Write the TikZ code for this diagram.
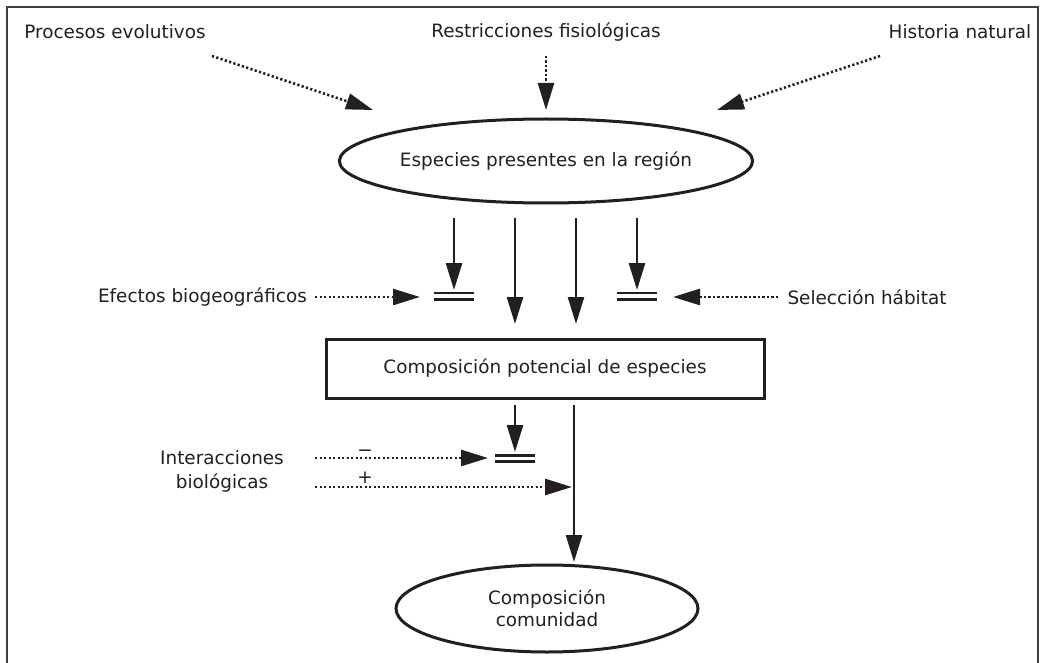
\documentclass[tikz,border=0pt]{standalone}
\usepackage{fontspec}
\setmainfont{DejaVu Sans}
\usetikzlibrary{arrows.meta,shapes.geometric}
\definecolor{ink}{HTML}{231F20}
\begin{document}
\begin{tikzpicture}[x=1pt,y=-1pt,
 lbl/.style={font=\fontsize{18.4}{24}\selectfont, text=ink, inner sep=0pt, align=center},
 solidarrow/.style={draw=ink, line width=2.6pt, -{Triangle[length=27pt,width=16pt]}},
 dotarrow/.style={draw=ink, line width=2.6pt, dash pattern=on 2.2pt off 2.3pt, -{Triangle[length=27pt,width=16pt]}},
 bar/.style={draw=ink, line width=2.6pt},
 shapeline/.style={draw=ink, line width=3pt}
 ]
\useasboundingbox (0,0) rectangle (1044,663);
\draw[line width=2pt, draw=black!75] (7,670) -- (7,7.5) -- (1037.5,7.5) -- (1037.5,670);

% labels
\node[lbl] (proc) at (115,32) {Procesos evolutivos};
\node[lbl] (restr) at (546,32) {Restricciones fisiológicas};
\node[lbl] (hist) at (960,32) {Historia natural};
\node[lbl] (efe) at (202.5,297) {Efectos biogeográficos};
\node[lbl] (sel) at (867,297) {Selección hábitat};
\node[lbl] (inter) at (222,471) {Interacciones\\biológicas};

% shapes
\node[lbl, ellipse, shapeline, minimum width=372pt, minimum height=84pt] (esp) at (546,161) {Especies presentes en la región};
\node[lbl, rectangle, shapeline, minimum width=438pt, minimum height=59pt] (pot) at (545,368.5) {Composición potencial de especies};
\node[lbl, ellipse, shapeline, minimum width=302pt, minimum height=87pt, font=\fontsize{18.4}{22}\selectfont] (com) at (547,608.5) {Composición\\comunidad};

% top dotted arrows
\coordinate (p0) at (212,56); \coordinate (p1) at (373,110);
\coordinate (r0) at (546,56); \coordinate (r1) at (546,110);
\coordinate (h0) at (880,56); \coordinate (h1) at (717,110);
\draw[dotarrow] (p0) -- (p1);
\draw[dotarrow] (r0) -- (r1);
\draw[dotarrow] (h0) -- (h1);

% four arrows down
\coordinate (a1) at (454,218); \coordinate (b1) at (454,290);
\coordinate (a2) at (515,218); \coordinate (b2) at (515,324);
\coordinate (a3) at (576,218); \coordinate (b3) at (576,324);
\coordinate (a4) at (637,218); \coordinate (b4) at (637,290);
\draw[solidarrow] (a1) -- (b1);
\draw[solidarrow] (a2) -- (b2);
\draw[solidarrow] (a3) -- (b3);
\draw[solidarrow] (a4) -- (b4);

% double bars
\coordinate (barL) at (454,296);
\coordinate (barR) at (636.5,296);
\coordinate (barC) at (514.5,458.5);
\foreach \c in {barL,barR,barC}{
  \draw[bar] ([shift={(-20,-3.2)}]\c) -- ([shift={(20,-3.2)}]\c);
  \draw[bar] ([shift={(-20,3.2)}]\c) -- ([shift={(20,3.2)}]\c);
}

% side dotted arrows
\coordinate (e0) at (315,297); \coordinate (e1) at (420,297);
\coordinate (s0) at (778,297); \coordinate (s1) at (673,297);
\draw[dotarrow] (e0) -- (e1);
\draw[dotarrow] (s0) -- (s1);

% below rectangle
\coordinate (c0) at (515,405); \coordinate (c1) at (515,452);
\draw[solidarrow] (c0) -- (c1);
\coordinate (d0) at (574,405); \coordinate (d1) at (574,562);
\draw[solidarrow] (d0) -- (d1);

% interactions
\coordinate (i0) at (315,458); \coordinate (i1) at (488,458);
\coordinate (j0) at (315,487); \coordinate (j1) at (572,487);
\draw[dotarrow] (i0) -- (i1);
\draw[dotarrow] (j0) -- (j1);
\node[lbl, anchor=base] (minus) at (365,456.5) {−};
\node[lbl, anchor=base] (plus) at (365,483) {+};
\end{tikzpicture}
\end{document}
